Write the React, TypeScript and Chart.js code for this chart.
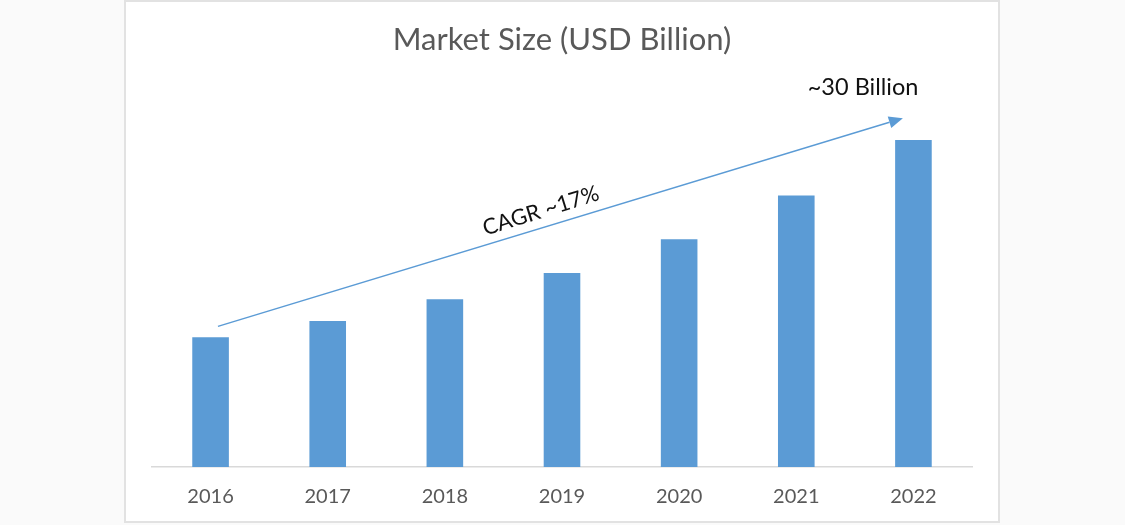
import React, { useEffect, useRef } from "react";
import { Chart, registerables } from "chart.js";

Chart.register(...registerables);

const categories = ["2016", "2017", "2018", "2019", "2020", "2021", "2022"];
const marketSize = [11.9, 13.4, 15.4, 17.8, 20.9, 24.9, 30.0];
const titleText = "Market Size (USD Billion)";
const cagrLabel = "CAGR ~17%";
const endLabel = "~30 Billion";
// annotation anchors in data space: [category index, value]
const arrowFrom = [0.063, 12.9];
const arrowTo = [5.91, 32.0];
const cagrAt = [2.82, 23.5];
const endLabelAt = [5.57, 34.8];

const BAR = "#5b9bd5";
const FONT = "Lato, 'Noto Sans', sans-serif";

const framePlugin = {
  id: "frame",
  beforeDraw(chart: any) {
    const { ctx, width, height } = chart;
    ctx.save();
    ctx.fillStyle = "#fafafa";
    ctx.fillRect(0, 0, width, height);
    ctx.fillStyle = "#ffffff";
    ctx.fillRect(125, 0, 875, 522);
    ctx.strokeStyle = "#e2e2e2";
    ctx.lineWidth = 2;
    ctx.strokeRect(125, 1, 874, 521);
    ctx.restore();
  },
};

const annotationPlugin = {
  id: "annot",
  afterDatasetsDraw(chart: any) {
    const { ctx } = chart;
    const xs = chart.scales.x;
    const ys = chart.scales.y;
    const px = (p: number[]) => [xs.getPixelForValue(p[0]), ys.getPixelForValue(p[1])];
    const [x1, y1] = px(arrowFrom);
    const [x2, y2] = px(arrowTo);
    const ang = Math.atan2(y2 - y1, x2 - x1);
    const head = 14;
    const hw = 6;
    ctx.save();
    ctx.strokeStyle = BAR;
    ctx.fillStyle = BAR;
    ctx.lineWidth = 1.5;
    const bx = x2 - head * Math.cos(ang);
    const by = y2 - head * Math.sin(ang);
    ctx.beginPath();
    ctx.moveTo(x1, y1);
    ctx.lineTo(bx, by);
    ctx.stroke();
    ctx.beginPath();
    ctx.moveTo(x2, y2);
    ctx.lineTo(bx + hw * Math.sin(ang), by - hw * Math.cos(ang));
    ctx.lineTo(bx - hw * Math.sin(ang), by + hw * Math.cos(ang));
    ctx.closePath();
    ctx.fill();

    const [cx, cy] = px(cagrAt);
    ctx.translate(cx, cy);
    ctx.rotate((-17.5 * Math.PI) / 180);
    ctx.fillStyle = "#111111";
    ctx.font = `22px ${FONT}`;
    ctx.textAlign = "center";
    ctx.textBaseline = "middle";
    ctx.fillText(cagrLabel, 0, 0);
    ctx.setTransform(1, 0, 0, 1, 0, 0);
    ctx.restore();

    ctx.save();
    const [ex, ey] = px(endLabelAt);
    ctx.fillStyle = "#111111";
    ctx.font = `23.5px ${FONT}`;
    ctx.textAlign = "center";
    ctx.textBaseline = "middle";
    ctx.fillText(endLabel, ex, ey);
    ctx.restore();
  },
};

export default function App() {
  const ref = useRef<HTMLCanvasElement>(null);
  useEffect(() => {
    document.body.style.margin = "0";
    const chart = new Chart(ref.current!, {
      type: "bar",
      data: {
        labels: categories,
        datasets: [
          {
            data: marketSize,
            backgroundColor: BAR,
            categoryPercentage: 1,
            barPercentage: 0.3125,
          },
        ],
      },
      options: {
        animation: false,
        responsive: false,
        devicePixelRatio: 1,
        layout: { padding: { left: 152, right: 153, top: 0, bottom: 18 } },
        plugins: {
          legend: { display: false },
          tooltip: { enabled: false },
          title: {
            display: true,
            text: titleText,
            color: "#595959",
            font: { family: FONT, size: 31, weight: "normal" },
            padding: { top: 21, bottom: 60 },
          },
        },
        scales: {
          x: {
            grid: { display: false, drawTicks: false },
            border: { display: true, color: "#d9d9d9", width: 1.5 },
            ticks: { color: "#595959", font: { family: FONT, size: 20 }, padding: 18 },
            afterFit: (scale: any) => {
              scale.height = 40;
            },
          },
          y: {
            display: false,
            min: 0,
            max: 32,
          },
        },
      },
      plugins: [framePlugin, annotationPlugin],
    });
    return () => chart.destroy();
  }, []);
  return (
    <div style={{ position: "fixed", left: 0, top: 0, width: 1125, height: 525 }}>
      <canvas ref={ref} width={1125} height={525} style={{ width: 1125, height: 525 }} />
    </div>
  );
}
